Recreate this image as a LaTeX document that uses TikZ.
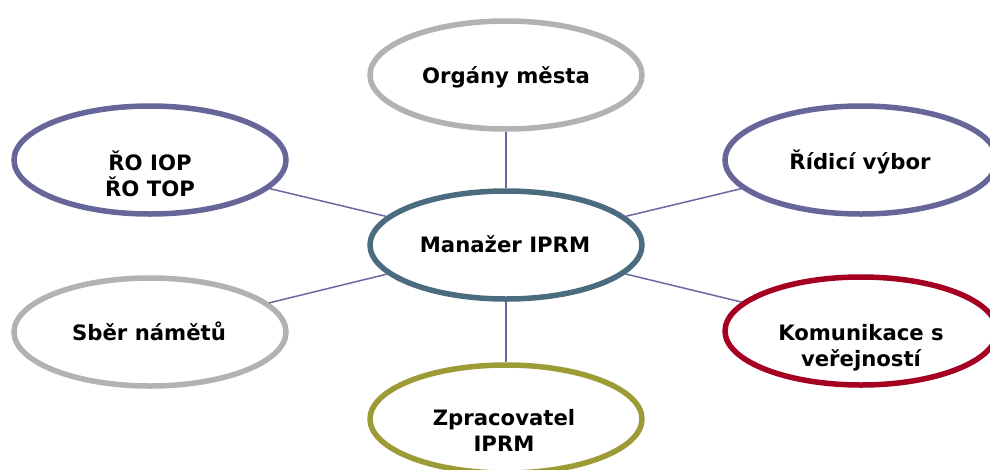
\documentclass[tikz,border=0pt]{standalone}
\usepackage{fontspec}
\setmainfont{DejaVu Sans}
\usetikzlibrary{shapes.geometric}
\definecolor{cgray}{HTML}{B2B2B2}
\definecolor{cpurple}{HTML}{666699}
\definecolor{cteal}{HTML}{4B6B7E}
\definecolor{cred}{HTML}{A50021}
\definecolor{colive}{HTML}{9C9B36}
\definecolor{cline}{HTML}{6A6AA2}
\tikzset{
  oval/.style={ellipse, draw=#1, line width=5.5pt, fill=white, minimum width=272pt, minimum height=108pt, inner sep=0pt},
  lbl/.style={font=\fontsize{21.2}{25.5}\selectfont\bfseries, inner sep=0pt, align=center, anchor=base},
  conn/.style={draw=cline, line width=1.5pt}
}
\begin{document}
\begin{tikzpicture}[x=1pt,y=-1pt]
\useasboundingbox (0,0) rectangle (990,469);
\clip (0,0) rectangle (990,469);
\node[oval=cgray]   (org) at (506,75) {};
\node[oval=cteal]   (man) at (506,245) {};
\node[oval=colive]  (zpr) at (506,419) {};
\node[oval=cpurple] (ro)  at (150,160) {};
\node[oval=cgray]   (sber) at (150,332) {};
\node[oval=cpurple] (rid) at (861,160) {};
\node[oval=cred]    (kom) at (861,331) {};
\draw[conn] (org) -- (man);
\draw[conn] (man) -- (zpr);
\draw[conn] (man) -- (ro);
\draw[conn] (man) -- (sber);
\draw[conn] (man) -- (rid);
\draw[conn] (man) -- (kom);
\node[lbl] (torg) at (506,83) {Orgány města};
\node[lbl] (tman) at (505,252.7) {Manažer IPRM};
\node[lbl] (tzpr) at (504,451) {Zpracovatel\\IPRM};
\node[lbl] (tro)  at (150,196) {ŘO IOP\\ŘO TOP};
\node[lbl] (tsber) at (149,340) {Sběr námětů};
\node[lbl] (trid) at (860,169) {Řídicí výbor};
\node[lbl] (tkom) at (861,366) {Komunikace s\\veřejností};
\end{tikzpicture}
\end{document}
